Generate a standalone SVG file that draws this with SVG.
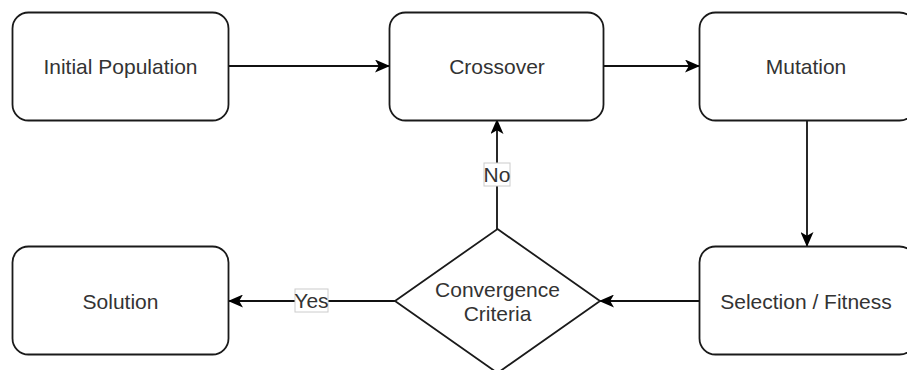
<svg xmlns="http://www.w3.org/2000/svg" width="907" height="370" viewBox="0 0 907 370">
  <style>
    .box { fill: #ffffff; stroke: #1a1a1a; stroke-width: 1.8; }
    .lbl { font-family: "Liberation Sans", Arial, sans-serif; font-size: 21px; fill: #333333; text-anchor: middle; }
    .edge { fill: none; stroke: #111111; stroke-width: 1.8; }
    .tag { fill: #ffffff; stroke: #cccccc; stroke-width: 1; }
  </style>
  <defs>
    <marker id="arrow" markerUnits="userSpaceOnUse" markerWidth="15" markerHeight="13" refX="14" refY="6.5" orient="auto">
      <path d="M0,0 L15,6.5 L0,13 L3.8,6.5 z" fill="#000000"/>
    </marker>
  </defs>

  <rect width="907" height="370" fill="#ffffff"/>

  <g id="connectors">
    <line class="edge" x1="229" y1="66" x2="389" y2="66" marker-end="url(#arrow)"/>
    <line class="edge" x1="604" y1="66" x2="699" y2="66" marker-end="url(#arrow)"/>
    <line class="edge" x1="807" y1="120" x2="807" y2="246" marker-end="url(#arrow)"/>
    <line class="edge" x1="699" y1="301" x2="600" y2="301" marker-end="url(#arrow)"/>
    <line class="edge" x1="395" y1="301" x2="229" y2="301" marker-end="url(#arrow)"/>
    <line class="edge" x1="497" y1="229" x2="497" y2="120" marker-end="url(#arrow)"/>
    <g id="label-no">
      <rect class="tag" x="484" y="163" width="26" height="23"/>
      <text class="lbl" x="497" y="182">No</text>
    </g>
    <g id="label-yes">
      <rect class="tag" x="295" y="289" width="33" height="23"/>
      <text class="lbl" x="311.5" y="308">Yes</text>
    </g>
  </g>

  <g id="initial-population">
    <rect class="box" x="12.5" y="12.5" width="216" height="108" rx="16"/>
    <text class="lbl" x="120.5" y="74">Initial Population</text>
  </g>
  <g id="crossover">
    <rect class="box" x="389.5" y="12.5" width="214" height="108" rx="16"/>
    <text class="lbl" x="497" y="74">Crossover</text>
  </g>
  <g id="mutation">
    <rect class="box" x="699.5" y="12.5" width="216" height="108" rx="16"/>
    <text class="lbl" x="806" y="74">Mutation</text>
  </g>
  <g id="selection-fitness">
    <rect class="box" x="699.5" y="246.5" width="216" height="108" rx="16"/>
    <text class="lbl" x="806" y="309">Selection / Fitness</text>
  </g>
  <g id="solution">
    <rect class="box" x="12.5" y="246.5" width="216" height="108" rx="16"/>
    <text class="lbl" x="120.5" y="309">Solution</text>
  </g>
  <g id="convergence-criteria">
    <polygon class="box" points="497.5,229 600,301 497.5,373 395,301"/>
    <text class="lbl" x="497.5" y="297">Convergence</text>
    <text class="lbl" x="497.5" y="321">Criteria</text>
  </g>
</svg>
